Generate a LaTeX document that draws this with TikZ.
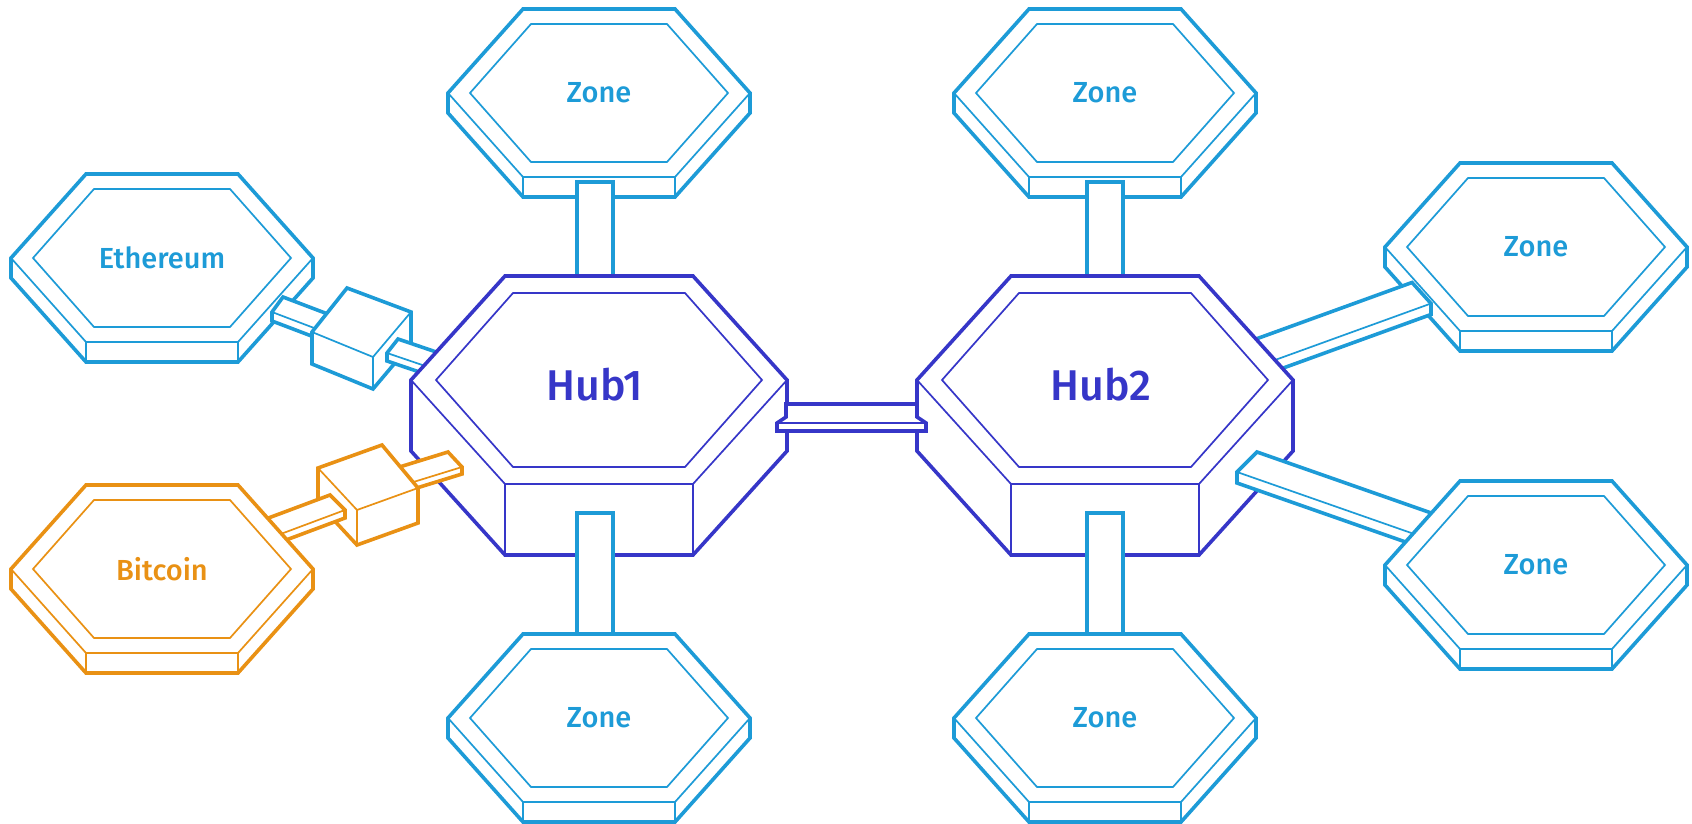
\documentclass[tikz,border=0pt]{standalone}
\usepackage{fontspec}
\setmainfont{Fira Sans Medium}
\usetikzlibrary{calc}

\definecolor{zoneblue}{RGB}{29,155,215}
\definecolor{hubindigo}{RGB}{54,54,200}
\definecolor{btcorange}{RGB}{233,145,20}

\tikzset{
  edge/.style={line width=3.6pt},
  fine/.style={line width=1.7pt},
  zonetext/.style={font=\fontsize{29}{32}\selectfont},
  hubtext/.style={font=\fontsize{43}{46}\selectfont},
}

% hexagonal slab: half width, half top, half height, inner hexagon, thickness
\newcommand{\slab}[7]{%
  \filldraw[edge, fill=white] (-#1,0) -- (-#2,-#3) -- (#2,-#3) -- (#1,0) -- (#1,#7) -- (#2,#3+#7) -- (-#2,#3+#7) -- (-#1,#7) -- cycle;
  \draw[fine] (-#1,0) -- (-#2,#3) -- (#2,#3) -- (#1,0);
  \draw[fine] (-#2,#3) -- ++(0,#7) (#2,#3) -- ++(0,#7);
  \draw[fine] (-#4,0) -- (-#5,-#6) -- (#5,-#6) -- (#4,0) -- (#5,#6) -- (-#5,#6) -- cycle;
}
\newcommand{\zone}[4]{% name, centre, colour, label
  \begin{scope}[shift={#2}, color=#3]
    \slab{151}{76}{84}{129}{68}{69}{20}
    \node[zonetext] (#1) at (0,0) {#4};
  \end{scope}}
\newcommand{\hub}[3]{% name, centre, label
  \begin{scope}[shift={#2}, color=hubindigo]
    \slab{188}{94}{104}{163}{86}{87}{71}
    \node[hubtext] (#1) at (-4,5) {#3};
  \end{scope}}
% flat bar: corner, run, width, depth, colour
\newcommand{\flatbar}[8]{%
  \filldraw[edge, draw=#8, fill=white] (#1,#2) -- ++(#3,#4) -- ++(#5,#6) -- ++(0,#7) -- ++({-(#3)},{-(#4)}) -- ++(0,{-(#7)}) -- cycle;
  \draw[fine, draw=#8] (#1,#2) ++(#5,#6) -- ++(#3,#4);
}

\begin{document}
\begin{tikzpicture}[x=1pt, y=-1pt]
  \useasboundingbox (0,0) rectangle (1692,824);

  % upper row
  \zone{zoneA}{(599,93)}{zoneblue}{Zone}
  \zone{zoneB}{(1105,93)}{zoneblue}{Zone}
  \zone{eth}{(162,258)}{zoneblue}{Ethereum}
  \zone{zoneC}{(1536,247)}{zoneblue}{Zone}

  \filldraw[edge, draw=zoneblue, fill=white] (577,182) rectangle (613,300);
  \filldraw[edge, draw=zoneblue, fill=white] (1087,182) rectangle (1123,300);

  % ethereum peg
  \flatbar{283}{297}{50}{19}{-11}{15}{9}{zoneblue}
  \filldraw[edge, draw=zoneblue, fill=white] (312,332) -- (347,288) -- (411,312) -- (411,344) -- (373,389) -- (312,364) -- cycle;
  \draw[fine, draw=zoneblue] (312,332) -- (373,357) -- (411,312) (373,357) -- (373,389);
  \flatbar{398}{339}{50}{17}{-11}{14}{8}{zoneblue}

  \flatbar{1245}{343}{167}{-60.5}{19}{21}{11}{zoneblue}

  % hubs
  \hub{hub1}{(599,380)}{Hub1}
  \hub{hub2}{(1105,380)}{Hub2}

  % hub to hub
  \filldraw[edge, draw=hubindigo, fill=white] (786,404) -- (917,404) -- (917,417) -- (926,423) -- (926,431) -- (777,431) -- (777,423) -- (786,417) -- cycle;
  \draw[fine, draw=hubindigo] (777,423) -- (926,423);

  \filldraw[edge, draw=zoneblue, fill=white] (577,513) rectangle (613,660);
  \filldraw[edge, draw=zoneblue, fill=white] (1087,513) rectangle (1123,660);
  \flatbar{1257}{452}{180}{63}{-20}{20}{11}{zoneblue}

  % bitcoin peg
  \flatbar{393}{469}{55}{-17}{14}{15}{7}{btcorange}
  \filldraw[edge, draw=btcorange, fill=white] (318,468) -- (382,445) -- (418,488) -- (418,523) -- (357,545) -- (318,503) -- cycle;
  \draw[fine, draw=btcorange] (318,468) -- (357,510) -- (418,488) (357,510) -- (357,545);
  \flatbar{255}{523}{75}{-28}{15}{15}{8}{btcorange}

  % lower row
  \zone{zoneD}{(599,718)}{zoneblue}{Zone}
  \zone{zoneE}{(1105,718)}{zoneblue}{Zone}
  \zone{zoneF}{(1536,565)}{zoneblue}{Zone}
  \zone{btc}{(162,569)}{btcorange}{Bitcoin}
\end{tikzpicture}
\end{document}
